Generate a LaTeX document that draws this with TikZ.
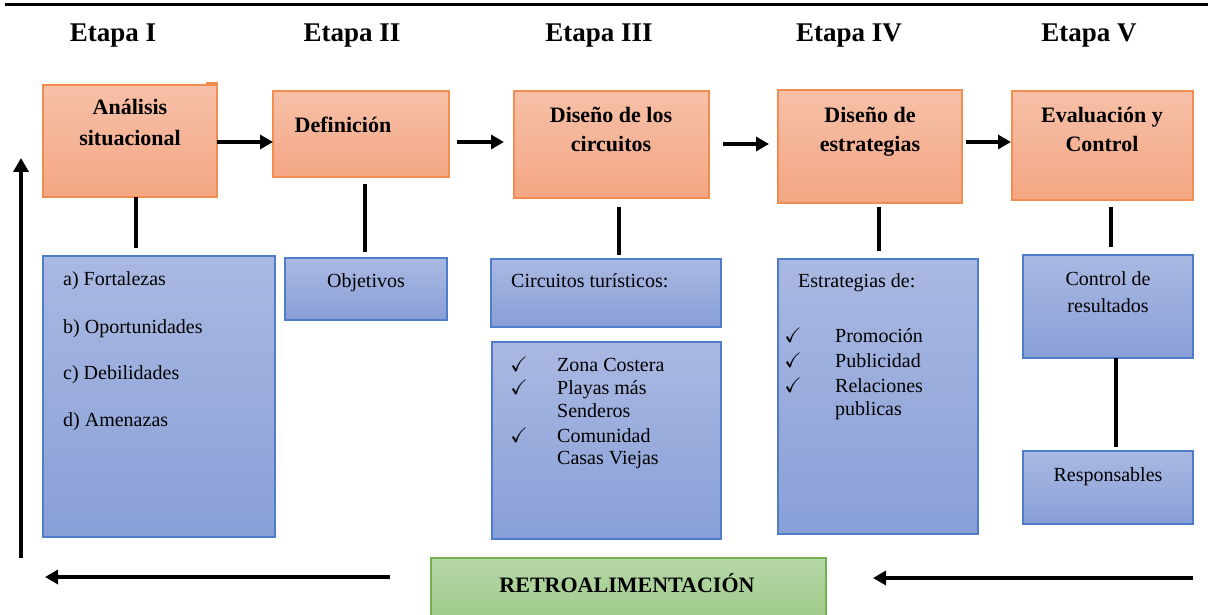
\documentclass[tikz,border=0pt]{standalone}
\usepackage{fontspec}
\setmainfont{Liberation Serif}
\usepackage{amssymb}
\usetikzlibrary{arrows.meta,calc}
\definecolor{otop}{HTML}{F6C0A8}
\definecolor{obot}{HTML}{F4A683}
\definecolor{oline}{HTML}{F08D4F}
\definecolor{btop}{HTML}{AAB9E2}
\definecolor{bbot}{HTML}{889FD7}
\definecolor{bline}{HTML}{4F7CCB}
\definecolor{gtop}{HTML}{B6D7A8}
\definecolor{gbot}{HTML}{9FCB8A}
\definecolor{gline}{HTML}{74B04F}
\begin{document}
\begin{tikzpicture}[x=1pt,y=-1pt,
  obox/.style={draw=oline, line width=1.3pt, top color=otop, bottom color=obot, inner sep=0pt, outer sep=0pt, anchor=north west},
  bbox/.style={draw=bline, line width=1.3pt, top color=btop, bottom color=bbot, inner sep=0pt, outer sep=0pt, anchor=north west},
  gbox/.style={draw=gline, line width=1.3pt, top color=gtop, bottom color=gbot, inner sep=0pt, outer sep=0pt, anchor=north west},
  head/.style={font=\fontsize{27}{32}\selectfont\bfseries, inner sep=0pt, anchor=base},
  ttl/.style={font=\fontsize{22}{30}\selectfont\bfseries, inner sep=0pt, anchor=base},
  bodyc/.style={font=\fontsize{20}{24}\selectfont, inner sep=0pt, anchor=base},
  bodyl/.style={font=\fontsize{20}{24}\selectfont, inner sep=0pt, anchor=base west},
  chk/.style={font=\fontsize{21}{24}\selectfont, inner sep=0pt, anchor=base},
  conn/.style={line width=4pt},
  arr/.style={line width=3.6pt, -{Triangle[length=13pt,width=14pt]}},
  varr/.style={line width=3.4pt, -{Triangle[length=14pt,width=15pt]}},
]
\useasboundingbox (0,0) rectangle (1208,615);
\fill[white] (0,0) rectangle (1208,615);

% top rule
\coordinate (r1) at (5,5);
\coordinate (r2) at (1208,5);
\draw[line width=3pt] (r1) -- (r2);

% headings
\node[head] (h1) at (113,42) {Etapa I};
\node[head] (h2) at (352,42) {Etapa II};
\node[head] (h3) at (599,42) {Etapa III};
\node[head] (h4) at (849,42) {Etapa IV};
\node[head] (h5) at (1089,42) {Etapa V};

% orange boxes
\node[obox, minimum width=10, minimum height=6] (o1n) at (207,83) {};
\node[obox, minimum width=174, minimum height=112] (o1) at (43,85) {};
\node[obox, minimum width=176, minimum height=86] (o2) at (273,91) {};
\node[obox, minimum width=195, minimum height=107] (o3) at (514,91) {};
\node[obox, minimum width=184, minimum height=113] (o4) at (778,90) {};
\node[obox, minimum width=181, minimum height=109] (o5) at (1012,91) {};

\node[ttl] (t1a) at (130,115) {Análisis};
\node[ttl] (t1b) at (130,146) {situacional};
\node[ttl] (t2) at (343,133) {Definición};
\node[ttl] (t3a) at (611,123) {Diseño de los};
\node[ttl] (t3b) at (611,152) {circuitos};
\node[ttl] (t4a) at (870,123) {Diseño de};
\node[ttl] (t4b) at (870,152) {estrategias};
\node[ttl] (t5a) at (1102,123) {Evaluación y};
\node[ttl] (t5b) at (1102,152) {Control};

% horizontal arrows
\coordinate (a2s) at (457,142); \coordinate (a2e) at (504,142);
\coordinate (a3s) at (723,144); \coordinate (a3e) at (769,144);
\coordinate (a4s) at (966,142); \coordinate (a4e) at (1011,142);
\draw[arr] (o1.east |- 0,142) -- (o2.west |- 0,142);
\draw[arr] (a2s) -- (a2e);
\draw[arr] (a3s) -- (a3e);
\draw[arr] (a4s) -- (a4e);

% blue boxes
\node[bbox, minimum width=232, minimum height=281] (b1) at (43,256) {};
\node[bbox, minimum width=162, minimum height=62] (b2) at (285,258) {};
\node[bbox, minimum width=230, minimum height=68] (b3a) at (491,259) {};
\node[bbox, minimum width=229, minimum height=197] (b3b) at (492,342) {};
\node[bbox, minimum width=200, minimum height=275] (b4) at (778,259) {};
\node[bbox, minimum width=170, minimum height=103] (b5a) at (1023,255) {};
\node[bbox, minimum width=170, minimum height=73] (b5b) at (1023,451) {};

% vertical connectors
\coordinate (v1a) at (136,197); \coordinate (v1b) at (136,248);
\coordinate (v2a) at (365,184); \coordinate (v2b) at (365,252);
\coordinate (v3a) at (619,207); \coordinate (v3b) at (619,255);
\coordinate (v4a) at (879,207); \coordinate (v4b) at (879,251);
\coordinate (v5a) at (1111,207); \coordinate (v5b) at (1111,247);
\coordinate (v6a) at (1116,358); \coordinate (v6b) at (1116,447);
\draw[conn] (v1a) -- (v1b);
\draw[conn] (v2a) -- (v2b);
\draw[conn] (v3a) -- (v3b);
\draw[conn] (v4a) -- (v4b);
\draw[conn] (v5a) -- (v5b);
\draw[conn] (v6a) -- (v6b);

% blue texts
\node[bodyl] (l1) at (63,285) {a) Fortalezas};
\node[bodyl] (l2) at (63,333) {b) Oportunidades};
\node[bodyl] (l3) at (63,379) {c) Debilidades};
\node[bodyl] (l4) at (63,426) {d) Amenazas};
\node[bodyc] (ob) at (366,287) {Objetivos};
\node[bodyl] (ct) at (511,287) {Circuitos turísticos:};

\node[chk] (k1) at (519,371) {$\checkmark$};
\node[chk] (k2) at (519,394) {$\checkmark$};
\node[chk] (k3) at (519,442) {$\checkmark$};
\node[bodyl] (z1) at (557,371) {Zona Costera};
\node[bodyl] (z2) at (557,394) {Playas más};
\node[bodyl] (z3) at (557,417) {Senderos};
\node[bodyl] (z4) at (557,442) {Comunidad};
\node[bodyl] (z5) at (557,464) {Casas Viejas};

\node[bodyl] (e0) at (798,287) {Estrategias de:};
\node[chk] (k4) at (793,342) {$\checkmark$};
\node[chk] (k5) at (793,367) {$\checkmark$};
\node[chk] (k6) at (793,392) {$\checkmark$};
\node[bodyl] (e1) at (835,342) {Promoción};
\node[bodyl] (e2) at (835,367) {Publicidad};
\node[bodyl] (e3) at (835,392) {Relaciones};
\node[bodyl] (e4) at (835,415) {publicas};

\node[bodyc] (c1) at (1108,285) {Control de};
\node[bodyc] (c2) at (1108,312) {resultados};
\node[bodyc] (rs) at (1108,481) {Responsables};

% green box
\node[gbox, minimum width=395, minimum height=62] (g) at (431,558) {};
\node[ttl] (gt) at (627,592) {RETROALIMENTACIÓN};

% feedback arrows
\coordinate (fl1) at (390,577); \coordinate (fl2) at (45,577);
\coordinate (fr1) at (1193,578); \coordinate (fr2) at (873,578);
\coordinate (fv1) at (21,558); \coordinate (fv2) at (21,158);
\draw[arr] (fl1) -- (fl2);
\draw[arr] (fr1) -- (fr2);
\draw[varr] (fv1) -- (fv2);
\end{tikzpicture}
\end{document}
